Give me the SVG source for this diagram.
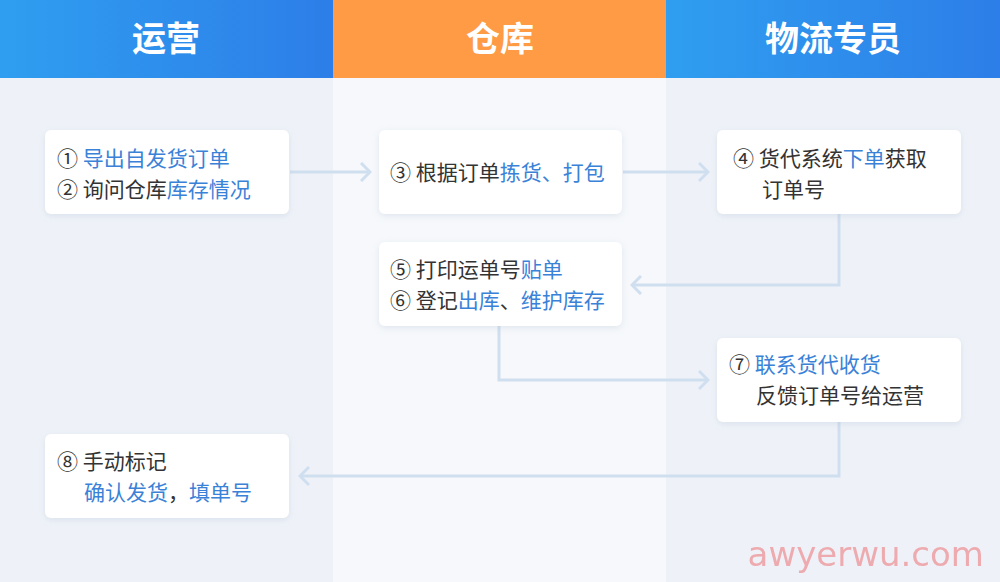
<svg xmlns="http://www.w3.org/2000/svg" width="1000" height="582" viewBox="0 0 1000 582">
<defs>
<linearGradient id="hb" x1="0" y1="0" x2="1" y2="0"><stop offset="0" stop-color="#2f9ef0"/><stop offset="1" stop-color="#2d7ee8"/></linearGradient>
<marker id="ar" viewBox="0 0 12 20" refX="10" refY="10" markerWidth="12" markerHeight="20" markerUnits="userSpaceOnUse" orient="auto"><path d="M1,1 L10,10 L1,19" fill="none" stroke="#cfdff0" stroke-width="3"/></marker>
<filter id="sh" x="-10%" y="-10%" width="120%" height="130%"><feDropShadow dx="0" dy="2" stdDeviation="3" flood-color="#9fb0c8" flood-opacity="0.25"/></filter>
<style>
text{font-family:"Noto Sans CJK SC","Noto Sans",sans-serif;font-size:21px;fill:#333}
.b{fill:#3a82d8}
.h{font-size:34px;font-weight:bold;fill:#fff}
.n{fill:#fff;filter:url(#sh)}
.c{fill:none;stroke:#cfdff0;stroke-width:3;marker-end:url(#ar)}
</style>
</defs>
<rect x="0" y="0" width="1000" height="582" fill="#eef2f8"/>
<rect x="333" y="78" width="333" height="504" fill="#f6f8fb"/>
<rect x="0" y="0" width="333" height="78" fill="url(#hb)"/>
<rect x="333" y="0" width="333" height="78" fill="#ff9a45"/>
<rect x="666" y="0" width="334" height="78" fill="url(#hb)"/>
<text class="h" x="166" y="51" text-anchor="middle">运营</text>
<text class="h" x="500" y="51" text-anchor="middle">仓库</text>
<text class="h" x="833" y="51" text-anchor="middle">物流专员</text>
<g id="connectors">
<path class="c" d="M290,172 H370"/>
<path class="c" d="M623,172 H708"/>
<path class="c" d="M839,214 V285 H632"/>
<path class="c" d="M499,326 V380 H708"/>
<path class="c" d="M839,422 V476 H300"/>
</g>
<g id="n1"><rect class="n" x="45" y="130" width="244" height="84" rx="6"/>
<text x="57" y="166">① <tspan class="b">导出自发货订单</tspan></text>
<text x="57" y="197">② 询问仓库<tspan class="b">库存情况</tspan></text></g>
<g id="n3"><rect class="n" x="379" y="130" width="243" height="84" rx="6"/>
<text x="390" y="180">③ 根据订单<tspan class="b">拣货、打包</tspan></text></g>
<g id="n4"><rect class="n" x="717" y="130" width="244" height="84" rx="6"/>
<text x="733" y="166">④ 货代系统<tspan class="b">下单</tspan>获取</text>
<text x="762" y="197">订单号</text></g>
<g id="n5"><rect class="n" x="379" y="242" width="243" height="84" rx="6"/>
<text x="390" y="277">⑤ 打印运单号<tspan class="b">贴单</tspan></text>
<text x="390" y="308">⑥ 登记<tspan class="b">出库</tspan>、<tspan class="b">维护库存</tspan></text></g>
<g id="n7"><rect class="n" x="717" y="338" width="244" height="84" rx="6"/>
<text x="729" y="372">⑦ <tspan class="b">联系货代收货</tspan></text>
<text x="756" y="403">反馈订单号给运营</text></g>
<g id="n8"><rect class="n" x="45" y="434" width="244" height="84" rx="6"/>
<text x="57" y="469">⑧ 手动标记</text>
<text x="84" y="500"><tspan class="b">确认发货</tspan>，<tspan class="b">填单号</tspan></text></g>
<text x="984" y="566" text-anchor="end" style="font-family:'DejaVu Sans',sans-serif;font-size:34px;fill:#ee9fa3;opacity:0.85">awyerwu.com</text>
</svg>
